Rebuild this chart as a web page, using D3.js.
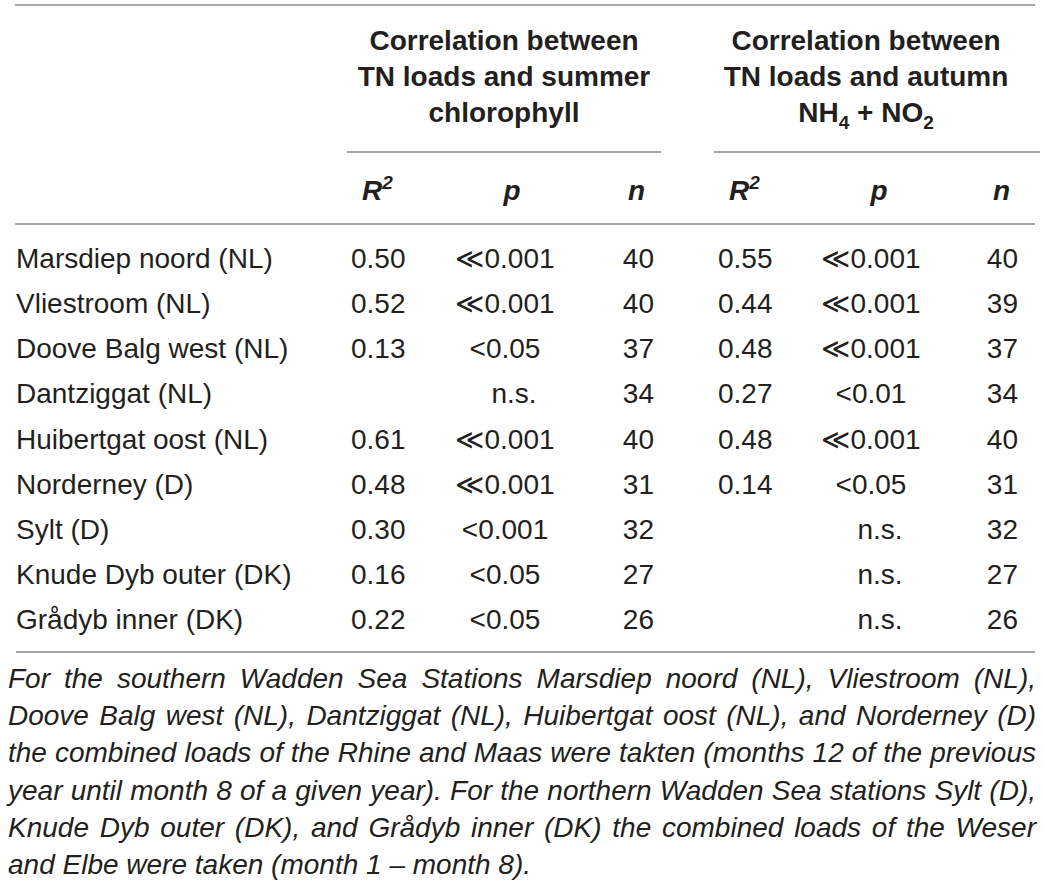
<!DOCTYPE html>
<html><head><meta charset="utf-8">
<script src="https://cdn.jsdelivr.net/npm/d3@7"></script>
<style>
html,body{margin:0;padding:0;background:#fff;}
svg{display:block;}
text{font-family:"Liberation Sans","Helvetica Neue",Arial,sans-serif;fill:#231f20;}
</style></head><body>
<svg id="chart" width="1044" height="886"></svg>
<script>
// ---------- data ----------
const stations = ["Marsdiep noord (NL)","Vliestroom (NL)","Doove Balg west (NL)","Dantziggat (NL)","Huibertgat oost (NL)","Norderney (D)","Sylt (D)","Knude Dyb outer (DK)","Grådyb inner (DK)"];
const chlR2 = [0.50,0.52,0.13,null,0.61,0.48,0.30,0.16,0.22];
const chlP  = ["≪0.001","≪0.001","<0.05","n.s.","≪0.001","≪0.001","<0.001","<0.05","<0.05"];
const chlN  = [40,40,37,34,40,31,32,27,26];
const nutR2 = [0.55,0.44,0.48,0.27,0.48,0.14,null,null,null];
const nutP  = ["≪0.001","≪0.001","≪0.001","<0.01","≪0.001","<0.05","n.s.","n.s.","n.s."];
const nutN  = [40,39,37,34,40,31,32,27,26];
const groupHeaderChl = ["Correlation between","TN loads and summer","chlorophyll"];
const groupHeaderNut = ["Correlation between","TN loads and autumn","NH4 + NO2"];
const subHeaders = ["R2","p","n"];
const footnoteLines = [
  "For the southern Wadden Sea Stations Marsdiep noord (NL), Vliestroom (NL),",
  "Doove Balg west (NL), Dantziggat (NL), Huibertgat oost (NL), and Norderney (D)",
  "the combined loads of the Rhine and Maas were takten (months 12 of the previous",
  "year until month 8 of a given year). For the northern Wadden Sea stations Sylt (D),",
  "Knude Dyb outer (DK), and Grådyb inner (DK) the combined loads of the Weser",
  "and Elbe were taken (month 1 – month 8)."
];

// ---------- layout ----------
const svg = d3.select("#chart");
const FS = 28;
const ruleColor = "#8a8a8a";
const fmt = d3.format(".2f");

const y = d3.scalePoint().domain(stations).range([258, 619]);
const groups = [
  {hdr: groupHeaderChl, r2: chlR2, p: chlP, n: chlN, cx: 504, rule: [347, 661], r2x: 351, px: 505, nx: 654, hR2: 362, hP: 512, hN: 645},
  {hdr: groupHeaderNut, r2: nutR2, p: nutP, n: nutN, cx: 866, rule: [714, 1040], r2x: 718, px: 871, nx: 1018, hR2: 729, hP: 879, hN: 1010}
];

// rules
const rules = [
  {x1: 15, x2: 1035, y: 5},
  {x1: 15, x2: 1035, y: 224},
  {x1: 16, x2: 1035, y: 652}
].concat(groups.map(g => ({x1: g.rule[0], x2: g.rule[1], y: 152})));
svg.selectAll("line.rule").data(rules).join("line")
  .attr("class","rule")
  .attr("x1", d => d.x1).attr("x2", d => d.x2)
  .attr("y1", d => d.y).attr("y2", d => d.y)
  .attr("stroke", ruleColor).attr("stroke-width", 1.6);

// group headers
const hdrY = d3.scalePoint().domain([0,1,2]).range([50, 122]);
groups.forEach(g => {
  const t = svg.selectAll(null).data(g.hdr).join("text")
    .attr("x", g.cx).attr("y", (d,i) => hdrY(i))
    .attr("text-anchor","middle")
    .attr("font-size", FS).attr("font-weight","bold");
  t.each(function(d) {
    const el = d3.select(this);
    const m = d.match(/^NH(\d) \+ NO(\d)$/);
    if (m) {
      el.append("tspan").text("NH");
      el.append("tspan").attr("font-size", 19).attr("dy", 7).text(m[1]);
      el.append("tspan").attr("dy", -7).text(" + NO");
      el.append("tspan").attr("font-size", 19).attr("dy", 7).text(m[2]);
    } else el.text(d);
  });
});

// sub headers
groups.forEach(g => {
  const xs = [g.hR2, g.hP, g.hN];
  const anchors = ["start","middle","end"];
  svg.selectAll(null).data(subHeaders).join("text")
    .attr("x", (d,i) => xs[i]).attr("y", 200)
    .attr("text-anchor", (d,i) => anchors[i])
    .attr("font-size", FS).attr("font-weight","bold").attr("font-style","italic")
    .each(function(d) {
      const el = d3.select(this);
      if (d === "R2") {
        el.append("tspan").text("R");
        el.append("tspan").attr("font-size", 19).attr("dy", -11).text("2");
      } else el.text(d);
    });
});

// station names
svg.selectAll("text.station").data(stations).join("text")
  .attr("class","station")
  .attr("x", 16).attr("y", d => y(d) + 10)
  .attr("font-size", FS)
  .text(d => d);

// values
groups.forEach(g => {
  svg.selectAll(null).data(stations.map((s,i) => ({s, v: g.r2[i]})).filter(d => d.v !== null)).join("text")
    .attr("x", g.r2x).attr("y", d => y(d.s) + 10)
    .attr("font-size", FS).text(d => fmt(d.v));
  svg.selectAll(null).data(stations.map((s,i) => ({s, v: g.p[i]}))).join("text")
    .attr("x", d => g.px + (d.v === "n.s." ? 9 : 0)).attr("y", d => y(d.s) + 10)
    .attr("text-anchor","middle")
    .attr("font-size", FS).text(d => d.v);
  svg.selectAll(null).data(stations.map((s,i) => ({s, v: g.n[i]}))).join("text")
    .attr("x", g.nx).attr("y", d => y(d.s) + 10)
    .attr("text-anchor","end")
    .attr("font-size", FS).text(d => d.v);
});

// footnote (justified)
const fy = d3.scalePoint().domain(d3.range(footnoteLines.length)).range([688, 874]);
const FX0 = 8, FX1 = 1036;
const probe = svg.append("text").attr("font-size", FS).attr("font-style","italic").text("a a");
const probeA = svg.append("text").attr("font-size", FS).attr("font-style","italic").text("aa");
const spaceW = probe.node().getComputedTextLength() - probeA.node().getComputedTextLength();
probe.remove(); probeA.remove();

footnoteLines.forEach((line, li) => {
  const words = line.split(" ");
  const isLast = li === footnoteLines.length - 1;
  const ts = svg.selectAll(null).data(words).join("text")
    .attr("y", fy(li)).attr("font-size", FS).attr("font-style","italic")
    .text(d => d);
  const widths = [];
  ts.each(function() { widths.push(this.getComputedTextLength()); });
  const sum = d3.sum(widths);
  const W = FX1 - FX0;
  const minGap = spaceW * 0.75;
  let s = 1, gap = spaceW;
  if (!isLast) {
    if (sum + minGap * (words.length - 1) > W) {
      s = W / (sum + minGap * (words.length - 1));
      gap = minGap * s;
    } else {
      gap = (W - sum) / (words.length - 1);
    }
  }
  let x = FX0;
  ts.each(function(d, i) {
    const w = widths[i] * s;
    d3.select(this).attr("x", x);
    if (s !== 1) d3.select(this).attr("textLength", w).attr("lengthAdjust","spacingAndGlyphs");
    x += w + gap;
  });
});
</script>
</body></html>
